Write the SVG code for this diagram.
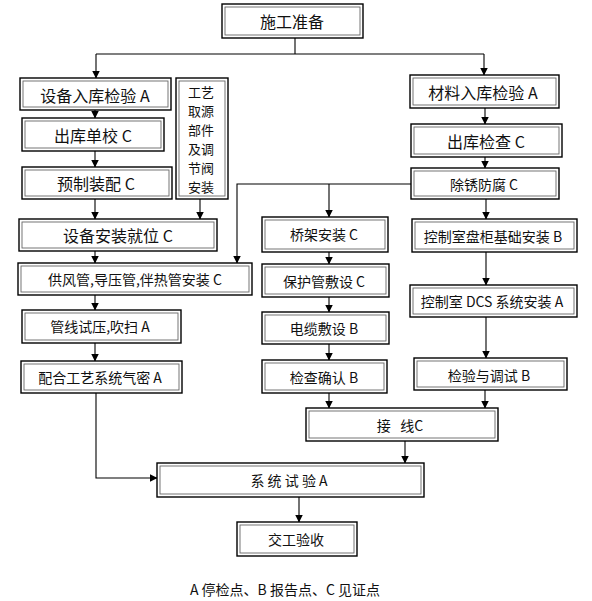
<svg xmlns="http://www.w3.org/2000/svg" width="592" height="601" viewBox="0 0 592 601">
<style>
.o{fill:#fff;stroke:#000;stroke-width:1.4}
.i{fill:none;stroke:#666;stroke-width:0.9}
text{font-family:"Noto Sans CJK SC","Noto Sans CJK JP",sans-serif;fill:#111;text-anchor:middle;dominant-baseline:central}
.t16{font-size:16px}
.t14{font-size:14px}
.tv{font-size:13px}
.c{fill:none;stroke:#000;stroke-width:1.1}
</style>
<defs>
<marker id="ar" markerWidth="8" markerHeight="8" refX="7.5" refY="4" orient="auto" markerUnits="userSpaceOnUse">
<path d="M0,0 L8,4 L0,8 Z" fill="#000"/>
</marker>
</defs>
<rect width="592" height="601" fill="#fff"/>
<g id="connectors">
<path class="c" d="M295,38 V54 M96,54 H484"/>
<path class="c" d="M96,54 V78" marker-end="url(#ar)"/>
<path class="c" d="M484,54 V75" marker-end="url(#ar)"/>
<path class="c" d="M95,110 V118" marker-end="url(#ar)"/>
<path class="c" d="M95,151 V167" marker-end="url(#ar)"/>
<path class="c" d="M95,199 V219" marker-end="url(#ar)"/>
<path class="c" d="M200,199 V219" marker-end="url(#ar)"/>
<path class="c" d="M95,251 V263" marker-end="url(#ar)"/>
<path class="c" d="M95,295 V310" marker-end="url(#ar)"/>
<path class="c" d="M95,343 V361" marker-end="url(#ar)"/>
<path class="c" d="M96,393 V478 H157" marker-end="url(#ar)"/>
<path class="c" d="M485,108 V124" marker-end="url(#ar)"/>
<path class="c" d="M485,157 V168" marker-end="url(#ar)"/>
<path class="c" d="M486,199 V219" marker-end="url(#ar)"/>
<path class="c" d="M411,184 H237 V263" marker-end="url(#ar)"/>
<path class="c" d="M329,184 V217" marker-end="url(#ar)"/>
<path class="c" d="M329,252 V264" marker-end="url(#ar)"/>
<path class="c" d="M329,297 V312" marker-end="url(#ar)"/>
<path class="c" d="M329,344 V360" marker-end="url(#ar)"/>
<path class="c" d="M329,393 V408" marker-end="url(#ar)"/>
<path class="c" d="M486,252 V285" marker-end="url(#ar)"/>
<path class="c" d="M486,317 V358" marker-end="url(#ar)"/>
<path class="c" d="M485,390 V408" marker-end="url(#ar)"/>
<path class="c" d="M405,441 V463" marker-end="url(#ar)"/>
<path class="c" d="M299,497 V522" marker-end="url(#ar)"/>
</g>
<g id="n_prep"><rect class="o" x="222" y="4" width="141" height="34"/><rect class="i" x="225" y="7" width="135" height="28"/><text class="t16" x="292" y="21">施工准备</text></g>
<g id="n_eqin"><rect class="o" x="20" y="78" width="151" height="32"/><rect class="i" x="23" y="81" width="145" height="26"/><text class="t16" x="95" y="95">设备入库检验 A</text></g>
<g id="n_out1"><rect class="o" x="22" y="118" width="142" height="33"/><rect class="i" x="25" y="121" width="136" height="27"/><text class="t16" x="93" y="135">出库单校 C</text></g>
<g id="n_pre"><rect class="o" x="22" y="167" width="150" height="32"/><rect class="i" x="25" y="170" width="144" height="26"/><text class="t16" x="96" y="183">预制装配 C</text></g>
<g id="n_tap"><rect class="o" x="176" y="78" width="52" height="121"/><rect class="i" x="179" y="81" width="46" height="115"/>
<text class="tv" x="201" y="91"><tspan x="201" y="91">工艺</tspan><tspan x="201" y="110">取源</tspan><tspan x="201" y="129">部件</tspan><tspan x="201" y="148">及调</tspan><tspan x="201" y="167">节阀</tspan><tspan x="201" y="186">安装</tspan></text></g>
<g id="n_eqinst"><rect class="o" x="19" y="219" width="198" height="32"/><rect class="i" x="22" y="222" width="192" height="26"/><text class="t16" x="118" y="235">设备安装就位 C</text></g>
<g id="n_pipe"><rect class="o" x="18" y="263" width="234" height="32"/><rect class="i" x="21" y="266" width="228" height="26"/><text class="t14" x="135" y="279">供风管,导压管,伴热管安装 C</text></g>
<g id="n_ptest"><rect class="o" x="22" y="310" width="159" height="33"/><rect class="i" x="25" y="313" width="153" height="27"/><text class="t14" x="100" y="326">管线试压,吹扫 A</text></g>
<g id="n_tight"><rect class="o" x="21" y="361" width="161" height="32"/><rect class="i" x="24" y="364" width="155" height="26"/><text class="t14" x="100" y="377">配合工艺系统气密 A</text></g>
<g id="n_matin"><rect class="o" x="410" y="75" width="149" height="33"/><rect class="i" x="413" y="78" width="143" height="27"/><text class="t16" x="483" y="92">材料入库检验 A</text></g>
<g id="n_out2"><rect class="o" x="411" y="124" width="151" height="33"/><rect class="i" x="414" y="127" width="145" height="27"/><text class="t16" x="486" y="141">出库检查 C</text></g>
<g id="n_rust"><rect class="o" x="411" y="168" width="148" height="31"/><rect class="i" x="414" y="171" width="142" height="25"/><text class="t14" x="484" y="184">除锈防腐 C</text></g>
<g id="n_cab"><rect class="o" x="412" y="219" width="165" height="33"/><rect class="i" x="415" y="222" width="159" height="27"/><text class="t14" x="493" y="236">控制室盘柜基础安装 B</text></g>
<g id="n_dcs"><rect class="o" x="410" y="285" width="167" height="32"/><rect class="i" x="413" y="288" width="161" height="26"/><text class="t14" x="492" y="301">控制室 DCS 系统安装 A</text></g>
<g id="n_debug"><rect class="o" x="414" y="358" width="153" height="32"/><rect class="i" x="417" y="361" width="147" height="26"/><text class="t14" x="489" y="375">检验与调试 B</text></g>
<g id="n_tray"><rect class="o" x="262" y="217" width="126" height="35"/><rect class="i" x="265" y="220" width="120" height="29"/><text class="t14" x="324" y="234">桥架安装 C</text></g>
<g id="n_conduit"><rect class="o" x="262" y="264" width="127" height="33"/><rect class="i" x="265" y="267" width="121" height="27"/><text class="t14" x="324" y="281">保护管敷设 C</text></g>
<g id="n_cable"><rect class="o" x="262" y="312" width="127" height="32"/><rect class="i" x="265" y="315" width="121" height="26"/><text class="t14" x="324" y="328">电缆敷设 B</text></g>
<g id="n_check"><rect class="o" x="262" y="360" width="125" height="33"/><rect class="i" x="265" y="363" width="119" height="27"/><text class="t14" x="324" y="377">检查确认 B</text></g>
<g id="n_wire"><rect class="o" x="306" y="408" width="192" height="33"/><rect class="i" x="309" y="411" width="186" height="27"/><text class="t14" x="400" y="425" xml:space="preserve">接   线C</text></g>
<g id="n_systest"><rect class="o" x="157" y="463" width="267" height="34"/><rect class="i" x="160" y="466" width="261" height="28"/><text class="t14" x="289" y="480" xml:space="preserve">系 统 试 验 A</text></g>
<g id="n_accept"><rect class="o" x="237" y="522" width="120" height="34"/><rect class="i" x="240" y="525" width="114" height="28"/><text class="t14" x="296" y="539">交工验收</text></g>
<g id="legend"><text class="t14" x="285" y="589" xml:space="preserve">A 停检点、B 报告点、C 见证点</text></g>
</svg>
